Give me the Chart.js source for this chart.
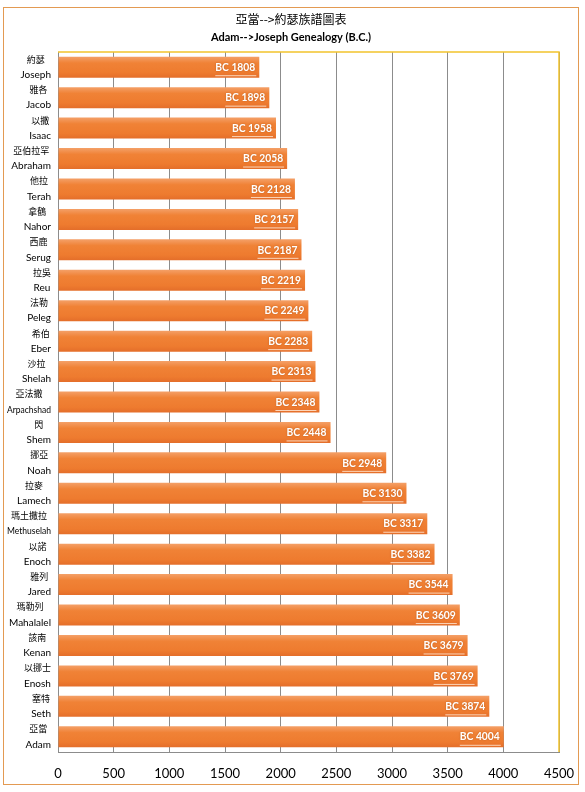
<!DOCTYPE html>
<html>
<head>
<meta charset="utf-8">
<script src="https://cdn.jsdelivr.net/npm/chart.js@4.4.0/dist/chart.umd.min.js"></script>
<style>
    html, body { margin: 0; padding: 0; background: #ffffff; }
    #frame {
        position: absolute;
        left: 3px;
        top: 7px;
        width: 574px;
        height: 776px;
        border: 1px solid #e39a52;
    }
    #chart { display: block; }
</style>
</head>
<body>
<div id="frame"><canvas id="chart" width="574" height="776"></canvas></div>
<script>
const NAMES_ZH = ['約瑟', '雅各', '以撒', '亞伯拉罕', '他拉', '拿鶴', '西鹿', '拉吳', '法勒', '希伯', '沙拉', '亞法撒', '閃', '挪亞', '拉麥', '瑪土撒拉', '以諾', '雅列', '瑪勒列', '該南', '以挪士', '塞特', '亞當'];
const NAMES_EN = ['Joseph', 'Jacob', 'Isaac', 'Abraham', 'Terah', 'Nahor', 'Serug', 'Reu', 'Peleg', 'Eber', 'Shelah', 'Arpachshad', 'Shem', 'Noah', 'Lamech', 'Methuselah', 'Enoch', 'Jared', 'Mahalalel', 'Kenan', 'Enosh', 'Seth', 'Adam'];
const YEARS_BC = [1808, 1898, 1958, 2058, 2128, 2157, 2187, 2219, 2249, 2283, 2313, 2348, 2448, 2948, 3130, 3317, 3382, 3544, 3609, 3679, 3769, 3874, 4004];
const X_TICKS = [0, 500, 1000, 1500, 2000, 2500, 3000, 3500, 4000, 4500];

const TITLE_ZH = '亞當-->約瑟族譜圖表';
const TITLE_EN = 'Adam-->Joseph Genealogy (B.C.)';

const LATIN = 'Lato, "Open Sans", sans-serif';
const CJK = '"Noto Sans CJK TC", "Noto Sans CJK SC", sans-serif';

function barGradient(context) {
    const chart = context.chart;
    const yScale = chart.scales.y;
    if (!yScale || context.dataIndex === undefined) {
        return '#ef7d31';
    }
    const center = yScale.getPixelForValue(context.dataIndex);
    if (!Number.isFinite(center)) {
        return '#ef7d31';
    }
    const g = chart.ctx.createLinearGradient(0, center - 10.5, 0, center + 10.5);
    g.addColorStop(0, '#f4a068');
    g.addColorStop(0.3, '#f08236');
    g.addColorStop(0.75, '#ee7b2f');
    g.addColorStop(1, '#e46e2a');
    return g;
}

const frameLines = {
    id: 'frameLines',
    afterDraw(chart) {
        const { ctx, chartArea } = chart;
        ctx.save();
        ctx.strokeStyle = '#f2c42c';
        ctx.lineWidth = 1.5;
        ctx.beginPath();
        ctx.moveTo(chartArea.left, chartArea.top);
        ctx.lineTo(chartArea.right, chartArea.top);
        ctx.lineTo(chartArea.right, chartArea.bottom);
        ctx.stroke();

        // titles
        ctx.fillStyle = '#000000';
        ctx.textAlign = 'center';
        ctx.textBaseline = 'middle';
        ctx.font = `12px ${CJK}`;
        ctx.fillText(TITLE_ZH, chart.width / 2, 11);
        ctx.font = `bold 11px ${LATIN}`;
        ctx.fillText(TITLE_EN, chart.width / 2, 29);

        // two-line category labels
        const yScale = chart.scales.y;
        const rightEdge = chartArea.left - 7;
        const maxW = 44;
        NAMES_EN.forEach((en, i) => {
            const zh = NAMES_ZH[i];
            const cy = yScale.getPixelForValue(i);
            ctx.font = `9px ${CJK}`;
            const wZh = ctx.measureText(zh).width;
            ctx.font = `10px ${LATIN}`;
            const wEn = Math.min(ctx.measureText(en).width, maxW);
            const mid = rightEdge - Math.max(wZh, wEn) / 2;
            ctx.font = `9px ${CJK}`;
            ctx.fillText(zh, mid, cy - 8);
            ctx.font = `10px ${LATIN}`;
            ctx.fillText(en, mid, cy + 7.5, maxW);
        });
        ctx.restore();
    }
};

const valueLabels = {
    id: 'valueLabels',
    afterDatasetsDraw(chart) {
        const { ctx } = chart;
        const meta = chart.getDatasetMeta(0);
        ctx.save();
        ctx.font = `bold 11.5px ${LATIN}`;
        ctx.textAlign = 'right';
        ctx.textBaseline = 'middle';
        meta.data.forEach((bar, i) => {
            const text = `BC ${YEARS_BC[i]}`;
            const xr = bar.x - 4;
            const w = Math.min(ctx.measureText(text).width, 40);
            ctx.strokeStyle = 'rgba(255, 230, 210, 0.85)';
            ctx.lineWidth = 1;
            ctx.beginPath();
            ctx.moveTo(xr - w, bar.y + 8.5);
            ctx.lineTo(xr + 1, bar.y + 8.5);
            ctx.stroke();
            ctx.shadowColor = 'rgba(120, 50, 0, 0.4)';
            ctx.shadowBlur = 2;
            ctx.fillStyle = '#ffffff';
            ctx.fillText(text, xr, bar.y, 40);
            ctx.shadowBlur = 0;
            ctx.shadowColor = 'transparent';
        });
        ctx.restore();
    }
};

new Chart(document.getElementById('chart'), {
    type: 'bar',
    data: {
        labels: NAMES_EN,
        datasets: [{
            data: YEARS_BC,
            backgroundColor: barGradient,
            borderWidth: 0,
            barPercentage: 0.69,
            categoryPercentage: 1
        }]
    },
    options: {
        indexAxis: 'y',
        responsive: false,
        animation: false,
        layout: { padding: { top: 44, right: 19, bottom: 0, left: 4 } },
        scales: {
            x: {
                min: 0,
                max: 4500,
                afterBuildTicks(scale) {
                    scale.ticks = X_TICKS.map(value => ({ value }));
                },
                afterFit(scale) {
                    scale.height = 32;
                    scale.paddingRight = 0;
                    scale.paddingLeft = 0;
                },
                grid: {
                    color: '#8c8c8c',
                    lineWidth: 1,
                    drawTicks: false
                },
                border: { color: '#8c8c8c', width: 1 },
                ticks: {
                    padding: 14,
                    color: '#000000',
                    font: { family: LATIN, size: 13 },
                    callback(value) {
                        return String(value);
                    }
                }
            },
            y: {
                afterFit(scale) {
                    scale.width = 50;
                },
                grid: { display: false, drawTicks: false },
                border: { color: '#8c8c8c', width: 1 },
                ticks: { display: false }
            }
        },
        plugins: {
            legend: { display: false },
            title: { display: false },
            tooltip: { enabled: false }
        }
    },
    plugins: [valueLabels, frameLines]
});
</script>
</body>
</html>
